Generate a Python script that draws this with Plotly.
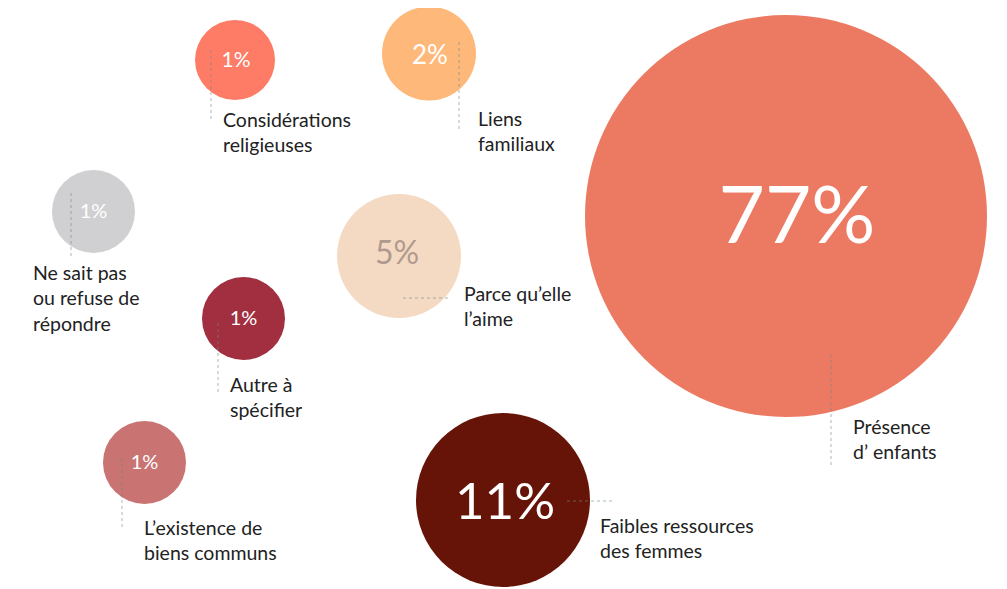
import plotly.graph_objects as go

# Data
reasons = [
    "Considérations<br>religieuses",
    "Liens<br>familiaux",
    "Ne sait pas<br>ou refuse de<br>répondre",
    "Parce qu’elle<br>l’aime",
    "Autre à<br>spécifier",
    "L’existence de<br>biens communs",
    "Présence<br>d’ enfants",
    "Faibles ressources<br>des femmes",
]
shares = [1, 2, 1, 5, 1, 1, 77, 11]
colors = ["#fe7b66", "#feb97a", "#d0d0d2", "#f5dac3", "#a12f3f", "#c97373", "#ec7a63", "#661408"]

# Bubble layout (pixel space, y grows downward)
bubble_x = [235, 429, 93.5, 399, 243.5, 144.5, 786, 503]
bubble_y = [60, 53.5, 211.5, 256, 318.5, 462.5, 216, 500]
bubble_d = [80, 94, 83, 124, 83, 83, 402, 174]
# percent label nudges inside bubbles
pct_dx = [1, 1, 0, -2, 0, 0, 11, 2]
pct_dy = [2, 4, 1, 0, 1, 1, 7, 6]
pct_size = [21, 26, 20, 32, 20, 20, 80, 51]
pct_color = ["white", "white", "white", "#b09a8e", "white", "white", "white", "white"]

# Label anchor (top-left) and leader line (x0, y0, x1, y1)
label_x = [221, 476, 31, 462, 228, 142, 851, 598]
label_y = [106, 105, 259, 280, 371, 514, 413, 512]
leaders = [
    (211, 50, 211, 122),
    (459, 42, 459, 130),
    (71, 193, 71, 257),
    (403, 298, 450, 298),
    (218, 323, 218, 395),
    (122, 458, 122, 530),
    (831, 354, 831, 467),
    (567, 501, 613, 501),
]

W, H = 1007, 589
OFF = 8  # page body margin

fig = go.Figure()

fig.add_trace(
    go.Scatter(
        x=bubble_x,
        y=bubble_y,
        mode="markers",
        marker=dict(size=bubble_d, sizemode="diameter", color=colors, line=dict(width=0), opacity=1),
        hoverinfo="skip",
        cliponaxis=False,
    )
)

fig.add_trace(
    go.Scatter(
        x=[x + d for x, d in zip(bubble_x, pct_dx)],
        y=[y + d for y, d in zip(bubble_y, pct_dy)],
        mode="text",
        text=[f"{v}%" for v in shares],
        textposition="middle center",
        textfont=dict(family="Lato, sans-serif", size=pct_size, color=pct_color),
        hoverinfo="skip",
        cliponaxis=False,
    )
)

for x0, y0, x1, y1 in leaders:
    fig.add_shape(
        type="line",
        x0=x0, y0=y0, x1=x1, y1=y1,
        line=dict(color="rgba(110,135,135,0.4)", width=1.5, dash="dot"),
        layer="above",
    )

for txt, lx, ly in zip(reasons, label_x, label_y):
    fig.add_annotation(
        x=lx, y=ly,
        text=txt,
        showarrow=False,
        xanchor="left",
        yanchor="top",
        align="left",
        font=dict(family="Lato, sans-serif", size=19.5, color="#222222"),
    )

fig.update_layout(
    width=W,
    height=H,
    margin=dict(l=0, r=0, t=0, b=0),
    paper_bgcolor="white",
    plot_bgcolor="white",
    showlegend=False,
    xaxis=dict(range=[OFF, W + OFF], visible=False, fixedrange=True),
    yaxis=dict(range=[H + OFF, OFF], visible=False, fixedrange=True),
)

fig.write_html("out.html")
